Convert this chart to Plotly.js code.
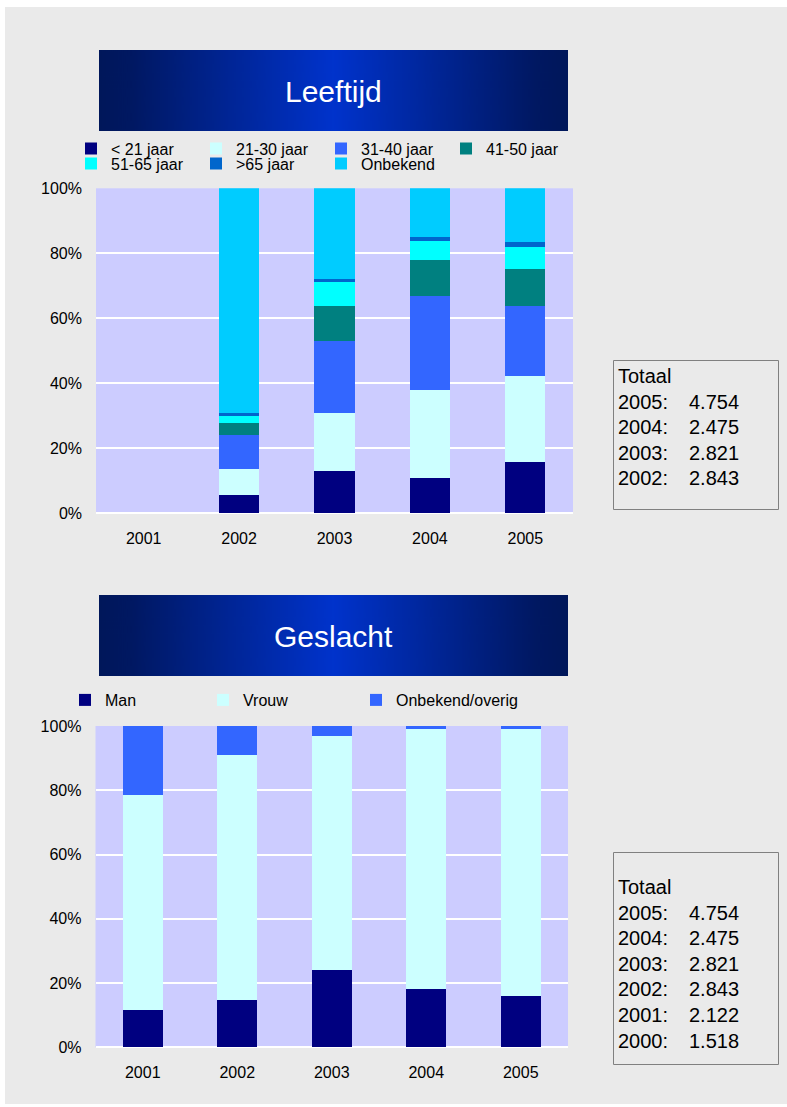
<!DOCTYPE html>
<html>
<head>
<meta charset="utf-8">
<script src="https://cdn.plot.ly/plotly-3.0.1.min.js"></script>
<style>html,body{margin:0;padding:0;background:#fff;}#chart{width:787px;height:1107px;}</style>
</head>
<body>
<div id="chart"></div>
<script>
// ---------- data ----------
const years = ['2001', '2002', '2003', '2004', '2005'];

const ageNames = ['< 21 jaar', '21-30 jaar', '31-40 jaar', '41-50 jaar', '51-65 jaar', '>65 jaar', 'Onbekend'];
const ageUnder21 = [null, 5.6, 13.0, 10.9, 15.8];
const age21to30  = [null, 8.0, 17.8, 27.1, 26.5];
const age31to40  = [null, 10.5, 22.2, 28.9, 21.5];
const age41to50  = [null, 3.7, 10.8, 11.0, 11.4];
const age51to65  = [null, 2.1, 7.4, 5.9, 6.8];
const ageOver65  = [null, 0.9, 0.9, 1.2, 1.5];
const ageUnknown = [null, 69.2, 27.9, 15.0, 16.5];
const ageColors = ['#000080', '#CCFFFF', '#3366FF', '#008080', '#00FFFF', '#0066CC', '#00CCFF'];

const genderNames = ['Man', 'Vrouw', 'Onbekend/overig'];
const genderMan   = [11.6, 14.7, 24.1, 18.2, 16.0];
const genderVrouw = [66.9, 76.3, 72.9, 80.9, 83.1];
const genderOther = [21.5, 9.0, 3.0, 0.9, 0.9];
const genderColors = ['#000080', '#CCFFFF', '#3366FF'];

const totalYears  = ['2005', '2004', '2003', '2002', '2001', '2000'];
const totalValues = [4754, 2475, 2821, 2843, 2122, 1518];

const chartTitles = ['Leeftijd', 'Geslacht'];
const yTicks = [0, 20, 40, 60, 80, 100];
const yTickLabels = ['0%', '20%', '40%', '60%', '80%', '100%'];

// ---------- helpers (pixel -> paper) ----------
const W = 787, H = 1107;
const px = v => v / W;
const py = v => 1 - v / H;
const FONT = 'Liberation Sans, Arial, sans-serif';
const fmt = n => Math.floor(n / 1000) + '.' + String(n % 1000).padStart(3, '0');

function gradientURL() {
  const c = document.createElement('canvas');
  c.width = 470; c.height = 20;
  const g = c.getContext('2d');
  const lg = g.createLinearGradient(0, 0, 470, 0);
  lg.addColorStop(0, '#00175A');
  lg.addColorStop(0.07, '#001862');
  lg.addColorStop(0.5, '#0033CC');
  lg.addColorStop(0.93, '#001862');
  lg.addColorStop(1, '#00175A');
  g.fillStyle = lg; g.fillRect(0, 0, 470, 20);
  return c.toDataURL();
}

// ---------- traces ----------
const ageSeries = [ageUnder21, age21to30, age31to40, age41to50, age51to65, ageOver65, ageUnknown];
const traces = [];
ageSeries.forEach((vals, i) => {
  traces.push({
    type: 'bar', x: years, y: vals, name: ageNames[i],
    marker: {color: ageColors[i], line: {width: 0}},
    xaxis: 'x', yaxis: 'y',
    legend: i < 4 ? 'legend' : 'legend2',
    hoverinfo: 'name+y'
  });
});
const genderSeries = [genderMan, genderVrouw, genderOther];
const genderLegendWidths = [93, 108, null];
genderSeries.forEach((vals, i) => {
  const t = {
    type: 'bar', x: years, y: vals, name: genderNames[i],
    marker: {color: genderColors[i], line: {width: 0}},
    xaxis: 'x2', yaxis: 'y2', legend: 'legend3', hoverinfo: 'name+y'
  };
  if (genderLegendWidths[i]) t.legendwidth = genderLegendWidths[i];
  traces.push(t);
});

// ---------- axes ----------
const tickFont = {family: FONT, size: 16, color: '#000000'};
function yAxis(domain, anchor) {
  return {
    domain: domain, anchor: anchor, range: [0, 100], tickmode: 'array', tickvals: yTicks, ticktext: yTickLabels,
    showgrid: true, gridcolor: '#FFFFFF', gridwidth: 2,
    zeroline: true, zerolinecolor: '#FFFFFF', zerolinewidth: 2,
    showline: false, ticks: '', tickfont: tickFont, ticklabelstandoff: 13,
    fixedrange: true
  };
}
function xAxis(domain, anchor) {
  return {
    domain: domain, anchor: anchor, type: 'category', categoryorder: 'array', categoryarray: years,
    range: [-0.5, 4.5], showgrid: false, zeroline: false, showline: false, ticks: '',
    tickfont: tickFont, ticklabelstandoff: 14, fixedrange: true
  };
}

// ---------- annotations (titles + total boxes) ----------
const annotations = [];
annotations.push({xref: 'paper', yref: 'paper', x: px(333.5), y: py(91), text: chartTitles[0],
  showarrow: false, xanchor: 'center', yanchor: 'middle', font: {family: FONT, size: 30, color: '#FFFFFF'}});
annotations.push({xref: 'paper', yref: 'paper', x: px(333.5), y: py(636), text: chartTitles[1],
  showarrow: false, xanchor: 'center', yanchor: 'middle', font: {family: FONT, size: 30, color: '#FFFFFF'}});

const boxFont = {family: FONT, size: 20, color: '#000000'};
function totalBox(topLineY, count) {
  const step = 25.6;
  annotations.push({xref: 'paper', yref: 'paper', x: px(616), y: py(topLineY), text: 'Totaal',
    showarrow: false, xanchor: 'left', yanchor: 'middle', font: boxFont});
  for (let i = 0; i < count; i++) {
    const yy = py(topLineY + step * (i + 1));
    annotations.push({xref: 'paper', yref: 'paper', x: px(616), y: yy, text: totalYears[i] + ':',
      showarrow: false, xanchor: 'left', yanchor: 'middle', font: boxFont});
    annotations.push({xref: 'paper', yref: 'paper', x: px(687), y: yy, text: fmt(totalValues[i]),
      showarrow: false, xanchor: 'left', yanchor: 'middle', font: boxFont});
  }
}
totalBox(376, 4);
totalBox(887, 6);

// ---------- shapes ----------
const shapes = [
  {type: 'rect', xref: 'paper', yref: 'paper', x0: 0, x1: 1, y0: py(0), y1: py(7), fillcolor: '#FFFFFF', line: {width: 0}, layer: 'above'},
  {type: 'rect', xref: 'paper', yref: 'paper', x0: 0, x1: px(5), y0: py(0), y1: py(H), fillcolor: '#FFFFFF', line: {width: 0}, layer: 'above'},
  {type: 'rect', xref: 'paper', yref: 'paper', x0: 0, x1: 1, y0: py(1104), y1: py(H), fillcolor: '#FFFFFF', line: {width: 0}, layer: 'above'},
  {type: 'rect', xref: 'paper', yref: 'paper', x0: px(613.5), x1: px(778.5), y0: py(360.5), y1: py(509.5), line: {color: '#808080', width: 1}, fillcolor: 'rgba(0,0,0,0)'},
  {type: 'rect', xref: 'paper', yref: 'paper', x0: px(613.5), x1: px(778.5), y0: py(852.5), y1: py(1064.5), line: {color: '#808080', width: 1}, fillcolor: 'rgba(0,0,0,0)'}
];

const grad = gradientURL();
const images = [
  {source: grad, xref: 'paper', yref: 'paper', x: px(99), y: py(50), sizex: 469 / W, sizey: 81 / H,
   xanchor: 'left', yanchor: 'top', sizing: 'stretch', layer: 'above'},
  {source: grad, xref: 'paper', yref: 'paper', x: px(99), y: py(595), sizex: 469 / W, sizey: 81 / H,
   xanchor: 'left', yanchor: 'top', sizing: 'stretch', layer: 'above'}
];

const legendFont = {family: FONT, size: 16, color: '#000000'};
function legendAt(xPix, topPix, width) {
  const l = {orientation: 'h', x: px(xPix), y: py(topPix), xanchor: 'left', yanchor: 'top',
    bgcolor: 'rgba(0,0,0,0)', borderwidth: 0, font: legendFont, traceorder: 'normal',
    itemclick: false, itemdoubleclick: false};
  if (width) { l.entrywidth = width; l.entrywidthmode = 'pixels'; }
  return l;
}

const layout = {
  width: W, height: H,
  margin: {l: 0, r: 0, t: 0, b: 0, pad: 0},
  paper_bgcolor: '#EAEAEA',
  plot_bgcolor: '#CCCCFF',
  barmode: 'stack',
  bargap: 0.58,
  font: {family: FONT, size: 16, color: '#000000'},
  showlegend: true,
  legend: legendAt(71, 131.5, 80),
  legend2: legendAt(71, 146.5, 80),
  legend3: legendAt(65, 683, null),
  xaxis: xAxis([px(96), px(573)], 'y'),
  yaxis: yAxis([py(513.3), py(188.3)], 'x'),
  xaxis2: xAxis([px(95.5), px(568)], 'y2'),
  yaxis2: yAxis([py(1047.3), py(726)], 'x2'),
  annotations: annotations,
  shapes: shapes,
  images: images
};

Plotly.newPlot('chart', traces, layout, {displayModeBar: false, responsive: false});
</script>
</body>
</html>
